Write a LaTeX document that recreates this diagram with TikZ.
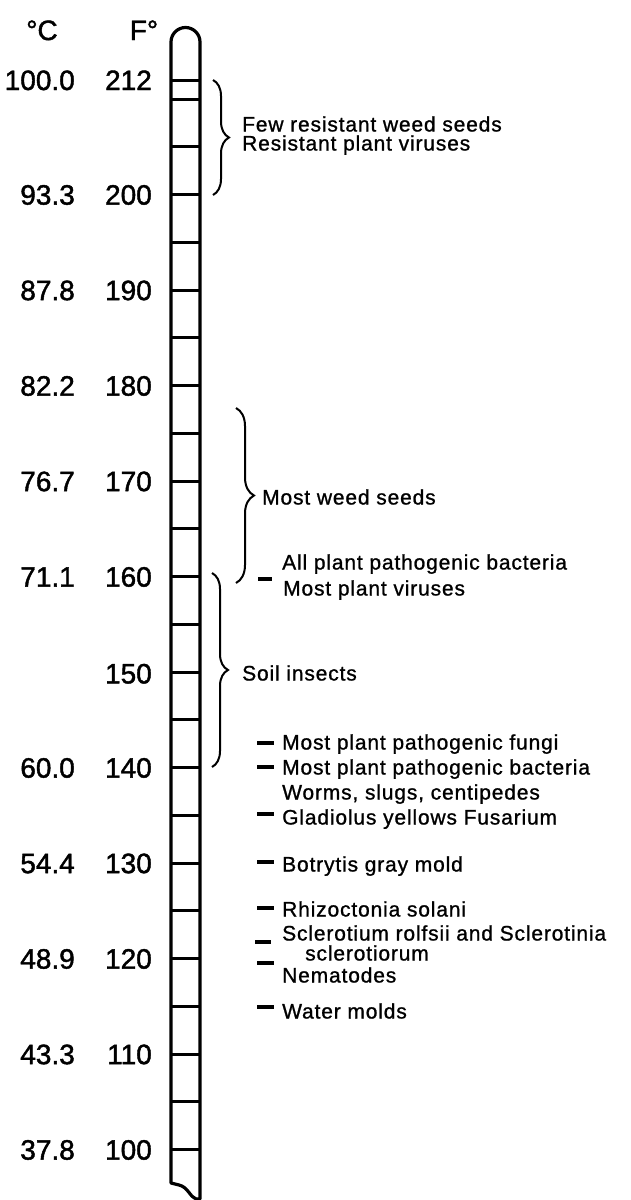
\documentclass[tikz,border=0pt]{standalone}
\usepackage{fontspec}
\setmainfont{Liberation Sans}
\newfontfamily\lbfont[LetterSpace=4,FakeBold=1]{Liberation Sans}
\newfontfamily\nmfont[FakeBold=1.5]{Liberation Sans}
\usetikzlibrary{decorations.pathreplacing}
\newcommand{\numf}{\nmfont\fontsize{28}{32}\selectfont}
\newcommand{\lbf}{\lbfont\fontsize{21}{24}\selectfont}

\begin{document}
\begin{tikzpicture}[x=1pt,y=-1pt,
  tb/.style={line width=3.2pt,line join=round},
  tk/.style={line width=3pt},
  bc/.style={line width=2pt,decorate,decoration={brace,amplitude=16pt}},
  ds/.style={line width=3.5pt},
  num/.style={font=\numf,inner sep=0pt,text height=20pt,text depth=0pt},
  lb/.style={font=\lbf,anchor=west,inner sep=0pt,text height=15pt,text depth=0pt}]
\useasboundingbox (0,0) rectangle (630,1200);
\def\xl{171}\def\xr{200}
%------------- tube with its scale
\draw[tb] (\xl,1183) -- (\xl,42) .. controls (\xl,34) and (177.5,27.5) .. (185.5,27.5)
  .. controls (193.5,27.5) and (\xr,34) .. (\xr,42) -- (\xr,1199) -- (196,1199)
  .. controls (190,1197) and (188,1187) .. (179,1185) -- cycle;
\foreach \f in {212,210}{\pgfmathsetmacro\y{80+(212-\f)*9.55}\draw[tk] (\xl,\y) -- (\xr,\y);}
\foreach \f in {205,200,...,100}{\pgfmathsetmacro\y{80+(212-\f)*9.55}\draw[tk] (\xl,\y) -- (\xr,\y);}
%------------- degree labels
\node[num] (degC) at (42,30) {°C};
\node[num] (degF) at (144,30) {F°};
\foreach \f/\c in {212/100.0,200/93.3,190/87.8,180/82.2,170/76.7,160/71.1,140/60.0,130/54.4,120/48.9,110/43.3,100/37.8}{
  \pgfmathsetmacro\y{80+(212-\f)*9.55}
  \node[num,anchor=east] (F\f) at (152,\y) {\f};
  \node[num,anchor=east] (C\f) at (75,\y) {\c};
}
\node[num,anchor=east] (F150) at (152,673.4) {150};
%------------- braces
\coordinate (b1t) at (213,80);  \coordinate (b1b) at (213,195);
\coordinate (b2t) at (236,408); \coordinate (b2b) at (236,583);
\coordinate (b3t) at (212,573); \coordinate (b3b) at (212,767);
\draw[bc] (b1t) -- (b1b);
\draw[bc,decoration={brace,amplitude=18pt}] (b2t) -- (b2b);
\draw[bc] (b3t) -- (b3b);
\node[lb] (few) at (242,124) {Few resistant weed seeds};
\node[lb] (res) at (242,143) {Resistant plant viruses};
\node[lb] (mws) at (262,497) {Most weed seeds};
\node[lb] (soil) at (242,673) {Soil insects};
%------------- single temperatures
\node[lb] (allb) at (282,562) {All plant pathogenic bacteria};
\node[lb] (mpv) at (283,588) {Most plant viruses};
\node[lb] (fungi) at (282,742) {Most plant pathogenic fungi};
\node[lb] (bact) at (282,767) {Most plant pathogenic bacteria};
\node[lb] (worms) at (282,792) {Worms, slugs, centipedes};
\node[lb] (glad) at (282,817) {Gladiolus yellows Fusarium};
\node[lb] (botr) at (282,864) {Botrytis gray mold};
\node[lb] (rhiz) at (282,909) {Rhizoctonia solani};
\node[lb] (scl) at (282,933) {Sclerotium rolfsii and Sclerotinia};
\node[lb] (sclb) at (305,953) {sclerotiorum};
\node[lb] (nema) at (282,975) {Nematodes};
\node[lb] (water) at (282,1011) {Water molds};
\foreach \n/\dy in {fungi/1,bact/0,glad/-3,botr/-2,rhiz/-1,nema/-12,water/-4}
  \draw[ds] (\n.west) ++(-25,\dy) -- ++(17,0);
\draw[ds] (allb.west) ++(-24,17) -- ++(14,0);
\draw[ds] (scl.west) ++(-27,9) -- ++(16,0);
\end{tikzpicture}
\end{document}
